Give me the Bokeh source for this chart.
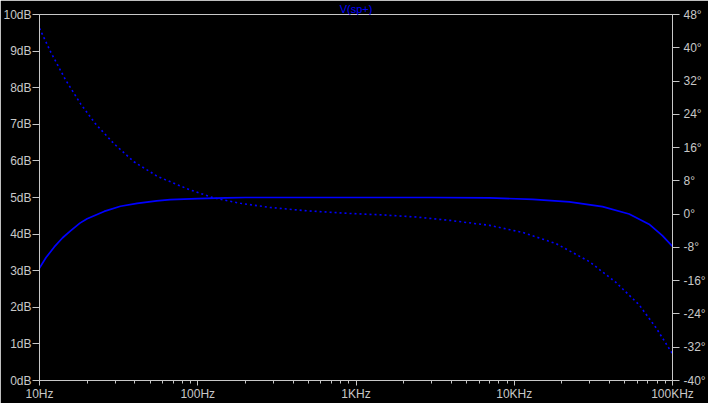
from bokeh.plotting import figure
from bokeh.models import Range1d, LinearAxis, FixedTicker
from bokeh.embed import file_html
from bokeh.resources import INLINE

# ---- data ----
mag_freq = [10, 11, 12.4, 14, 15.7, 18, 20, 25.6, 32.5, 41.4, 55, 67, 100, 150, 200,
            500, 1000, 3000, 7000, 13100, 22300, 36100, 53200, 71100, 86300, 100000]
mag_db = [3.07, 3.36, 3.65, 3.90, 4.09, 4.30, 4.42, 4.62, 4.76, 4.84, 4.91, 4.94, 4.97, 4.99, 5.0,
          5.0, 5.0, 5.0, 4.99, 4.95, 4.88, 4.75, 4.55, 4.27, 3.96, 3.66]

ph_freq = [10, 11.8, 14.6, 18.2, 22.6, 29.6, 39.5, 55.5, 85.6, 126, 186, 287, 489, 873,
           1486, 2410, 3909, 6985, 11300, 18400, 29800, 43900, 61500, 78300, 100000]
ph_deg = [44.7, 38.9, 32.3, 26.5, 21.7, 16.9, 12.6, 9.1, 6.1, 3.9, 2.6, 1.6, 0.8, 0.2,
          -0.2, -0.7, -1.5, -2.7, -4.4, -7.1, -11.4, -16.4, -21.8, -27.2, -33.6]

x_ticks = [10, 100, 1000, 10000, 100000]
x_labels = ["10Hz", "100Hz", "1KHz", "10KHz", "100KHz"]
x_minor = [m * d for d in [10, 100, 1000, 10000] for m in range(2, 10)]
db_ticks = list(range(0, 11))
db_labels = ["%ddB" % v for v in db_ticks]
ph_ticks = list(range(-40, 49, 8))
ph_labels = ["%d°" % v for v in ph_ticks]
trace_name = "V(sp+)"

GRAY = "#C8C8C8"
BLUE = "#0000FF"
FONT = "Liberation Sans"

p = figure(frame_width=633, frame_height=366, x_axis_type="log", output_backend="svg",
           toolbar_location=None, x_range=Range1d(10, 100000), y_range=Range1d(0, 10),
           min_border_left=34, min_border_right=30, min_border_top=0, min_border_bottom=20)
p.background_fill_color = "black"
p.border_fill_color = "black"
p.outline_line_color = GRAY
p.outline_line_width = 1
p.grid.visible = False

p.title.text = trace_name
p.title.align = "center"
p.title.text_color = BLUE
p.title.text_font = FONT
p.title.text_font_size = "11px"
p.title.text_font_style = "normal"
p.title.standoff = 0
p.title.offset = 0

p.extra_y_ranges = {"phase": Range1d(-40, 48)}

# magnitude
p.line(mag_freq, mag_db, line_color=BLUE, line_width=1.7)
# phase
p.line(ph_freq, ph_deg, y_range_name="phase", line_color=BLUE, line_width=1.6, line_dash="2 3")

def style(ax):
    ax.axis_line_color = GRAY
    ax.major_tick_line_color = GRAY
    ax.minor_tick_line_color = GRAY
    ax.major_label_text_color = GRAY
    ax.major_label_text_font = FONT
    ax.major_label_text_font_size = "12px"
    ax.major_tick_in = 0

xa = p.xaxis[0]
style(xa)
xa.ticker = FixedTicker(ticks=x_ticks, minor_ticks=x_minor)
xa.major_label_overrides = {t: l for t, l in zip(x_ticks, x_labels)}
xa.major_tick_out = 5
xa.minor_tick_out = 3
xa.minor_tick_in = 0
xa.major_label_standoff = 1

ya = p.yaxis[0]
style(ya)
ya.ticker = FixedTicker(ticks=db_ticks)
ya.major_label_overrides = {t: l for t, l in zip(db_ticks, db_labels)}
ya.major_tick_out = 7
ya.minor_tick_line_color = None
ya.major_label_standoff = 1

ra = LinearAxis(y_range_name="phase")
style(ra)
ra.ticker = FixedTicker(ticks=ph_ticks)
ra.major_label_overrides = {t: l for t, l in zip(ph_ticks, ph_labels)}
ra.major_tick_out = 7
ra.minor_tick_line_color = None
ra.major_label_standoff = 4
p.add_layout(ra, "right")

open("out.html", "w").write(file_html(p, INLINE))
